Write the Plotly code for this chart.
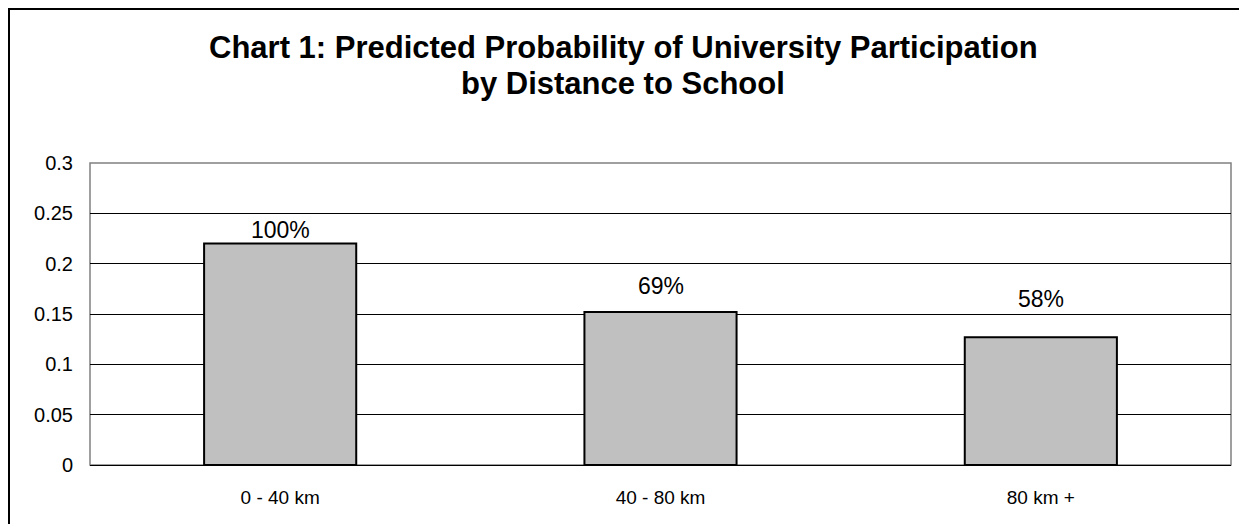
import plotly.graph_objects as go

categories = ["0 - 40 km", "40 - 80 km", "80 km +"]
probabilities = [0.22, 0.152, 0.127]
relative_labels = ["100%", "69%", "58%"]
y_tick_values = [0, 0.05, 0.1, 0.15, 0.2, 0.25, 0.3]
y_tick_labels = ["0", "0.05", "0.1", "0.15", "0.2", "0.25", "0.3"]
title_lines = ["Chart 1: Predicted Probability of University Participation",
               "by Distance to School"]

# label placement above each bar (pixels), as positioned in the original
label_shift_px = [14, 26, 38]

FONT = "Liberation Sans, Arial, sans-serif"

fig = go.Figure()
fig.add_trace(go.Bar(
    x=categories,
    y=probabilities,
    marker=dict(color="#C0C0C0", line=dict(color="black", width=2)),
    width=0.4,
    hoverinfo="skip",
))

for cat, val, lab, sh in zip(categories, probabilities, relative_labels, label_shift_px):
    fig.add_annotation(
        x=cat, y=val, xref="x", yref="y",
        text=lab, showarrow=False,
        xanchor="center", yanchor="middle", yshift=sh,
        font=dict(family=FONT, size=23, color="black"),
    )

# page body has an 8px margin, so figure coords = page coords - 8
OFF = 8
W, H = 1231, 516
L, R, T, B = 90 - OFF, 8, 163 - OFF, H - (465 - OFF)
pw = W - L - R
ph = H - T - B

fig.update_layout(
    width=W, height=H,
    margin=dict(l=L, r=R, t=T, b=B, pad=0),
    paper_bgcolor="white",
    plot_bgcolor="white",
    showlegend=False,
    font=dict(family=FONT, color="black"),
    xaxis=dict(
        showgrid=False,
        showline=True, linecolor="black", linewidth=1,
        ticks="", tickfont=dict(size=19, color="black"),
        ticklabelstandoff=15,
        zeroline=False,
    ),
    yaxis=dict(
        range=[0, 0.3],
        tickvals=y_tick_values, ticktext=y_tick_labels,
        showgrid=True, gridcolor="black", gridwidth=1,
        showline=False, zeroline=False,
        ticks="", tickfont=dict(size=20, color="black"),
        ticklabelstandoff=16,
    ),
)

# plot area border (grey) and outer chart frame
fig.add_shape(type="rect", xref="paper", yref="paper", x0=0, y0=0, x1=1, y1=1,
              line=dict(color="#808080", width=1.5), layer="below")
fig.add_shape(type="rect", xref="paper", yref="paper",
              x0=(1 - L) / pw, y0=-0.5, x1=1.2, y1=1 + (T - 1) / ph,
              line=dict(color="black", width=2), layer="above")

for line, ypix in zip(title_lines, [48, 84]):
    fig.add_annotation(
        text="<b>" + line + "</b>",
        xref="paper", yref="paper",
        x=(623 - OFF - L) / pw, y=1 + (T - (ypix - OFF)) / ph,
        xanchor="center", yanchor="middle",
        showarrow=False,
        font=dict(family=FONT, size=31, color="black"),
    )

fig.write_html("out.html")
